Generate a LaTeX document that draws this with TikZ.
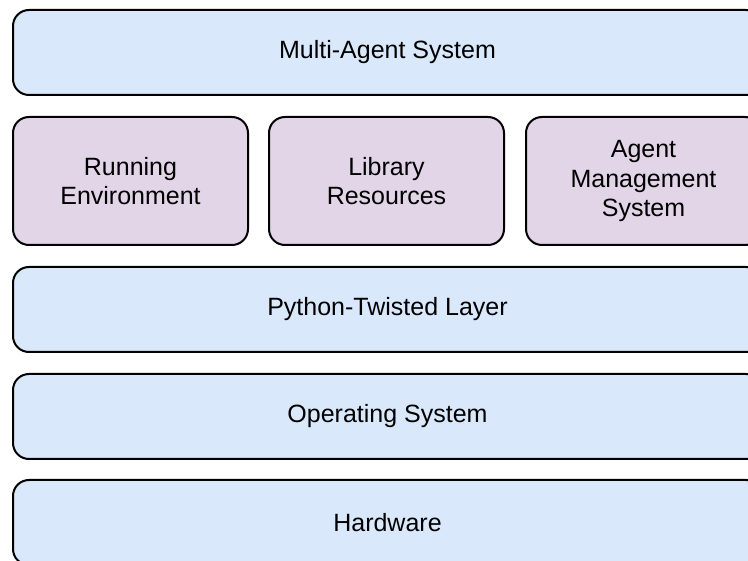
\documentclass[tikz,border=0pt]{standalone}
\usepackage{fontspec}
\setmainfont{Liberation Sans}
\definecolor{layerblue}{HTML}{DAE8FC}
\definecolor{layerpurple}{HTML}{E1D5E7}
\begin{document}
\begin{tikzpicture}[x=1pt,y=-1pt]
        \useasboundingbox (0,0) rectangle (748,561);
        \clip (0,0) rectangle (748,561);

        \begin{scope}[every node/.style={rectangle, draw, rounded corners=16pt, line width=2pt,
            anchor=north west, inner sep=0pt, align=center, font=\fontsize{25}{29.5}\selectfont}]

          \begin{scope}[every node/.append style={fill=layerblue, minimum width=749pt, minimum height=85pt}]
            \node (1)  at (12,9)   {Multi-Agent System};
            \node (5)  at (12,266) {Python-Twisted Layer};
            \node (6)  at (12,373) {Operating System};
            \node (7)  at (12,479) {Hardware};
          \end{scope}

          \begin{scope}[every node/.append style={fill=layerpurple, minimum width=235pt, minimum height=128pt}]
            \node (2)  at (12,116)  {Running\\Environment};
            \node (3)  at (268,116) {Library\\Resources};
            \node (4)  at (525,116) {Agent\\Management\\System};
          \end{scope}
        \end{scope}

\end{tikzpicture}
\end{document}
